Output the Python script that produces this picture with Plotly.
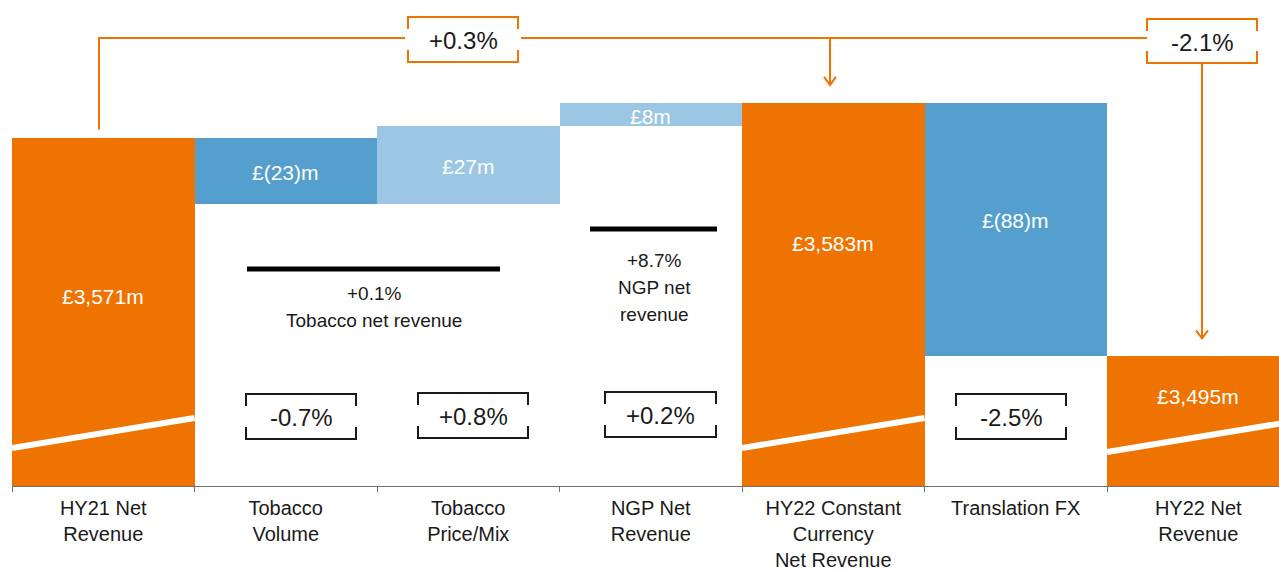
import plotly.graph_objects as go

# ---------------- data ----------------
categories = [
    "HY21 Net<br>Revenue",
    "Tobacco<br>Volume",
    "Tobacco<br>Price/Mix",
    "NGP Net<br>Revenue",
    "HY22 Constant<br>Currency<br>Net Revenue",
    "Translation FX",
    "HY22 Net<br>Revenue",
]
values = [3571, -23, 27, 8, 3583, -88, 3495]          # £m
kinds = ["total", "delta", "delta", "delta", "total", "delta", "total"]
segment_growth = ["-0.7%", "+0.8%", "+0.2%", "-2.5%"]  # under Volume, Price/Mix, NGP, FX
headline_growth = ["+0.3%", "-2.1%"]
tobacco_note = ["+0.1%", "Tobacco net revenue"]
ngp_note = ["+8.7%", "NGP net", "revenue"]

# ---------------- styling / layout constants ----------------
ORANGE = "#EF7300"
BLUE = "#559FCE"
LIGHT_BLUE = "#9BC6E4"
TEXT = "#1a1a1a"
FONT = "Arial, 'Liberation Sans', sans-serif"

W, H = 1279, 570
PLOT_LEFT, PLOT_TOP, PLOT_BOTTOM = 12, 0, 486     # pixels
M_L, M_R, M_T, M_B = PLOT_LEFT, 0, PLOT_TOP, H - PLOT_BOTTOM
PLOT_H = PLOT_BOTTOM - PLOT_TOP
CAT_W = 182.5                      # pixels per category
SCALE = 2.88                       # pixels per £m (broken axis)
AXIS_FLOOR = 3450.0
Y_TOP = AXIS_FLOOR + PLOT_H / SCALE
X_END = -0.5 + (W - PLOT_LEFT) / CAT_W


def X(px):
    return (px - PLOT_LEFT) / CAT_W - 0.5


def Y(py):
    return Y_TOP - (py - PLOT_TOP) / SCALE


def PY(v):
    return PLOT_TOP + (Y_TOP - v) * SCALE


# ---------------- waterfall geometry from data ----------------
bases, heights, colors, labels = [], [], [], []
running = None
for v, k in zip(values, kinds):
    if k == "total":
        bases.append(AXIS_FLOOR)
        heights.append(v - AXIS_FLOOR)
        colors.append(ORANGE)
        labels.append(f"£{v:,}m")
        running = v
    else:
        lo = min(running, running + v)
        bases.append(lo)
        heights.append(abs(v))
        colors.append(BLUE if v < 0 else LIGHT_BLUE)
        labels.append(f"£({-v})m" if v < 0 else f"£{v}m")
        running += v

fig = go.Figure()
fig.add_trace(go.Bar(
    x=categories, y=heights, base=bases, width=1.0,
    marker=dict(color=colors, line=dict(width=0)),
    hoverinfo="skip", showlegend=False,
))

annotations = []
shapes = []

# bar value labels (pixel y positions of text centres)
label_py = [296, 172, 166, 116, 243, 220, 396]
for i, (lab, py) in enumerate(zip(labels, label_py)):
    annotations.append(dict(x=i, y=Y(py), xref="x", yref="y", text=lab,
                            showarrow=False, font=dict(family=FONT, size=21, color="white")))

# white axis-break slashes on total bars
for i, k in enumerate(kinds):
    if k == "total":
        y_left = 448 if i < 6 else 452
        shapes.append(dict(type="line", xref="x", yref="y",
                           x0=i - 0.5, y0=Y(y_left), x1=i + 0.5, y1=Y(y_left - 30),
                           line=dict(color="white", width=6)))


def bracket(x0, x1, y0, y1, leg, color):
    return dict(type="path", xref="x", yref="y",
                path=(f"M {X(x0)},{Y(y0 + leg)} L {X(x0)},{Y(y0)} L {X(x1)},{Y(y0)} L {X(x1)},{Y(y0 + leg)} "
                      f"M {X(x0)},{Y(y1 - leg)} L {X(x0)},{Y(y1)} L {X(x1)},{Y(y1)} L {X(x1)},{Y(y1 - leg)}"),
                line=dict(color=color, width=2))


# segment growth boxes (black)
seg_boxes = [(246, 356, 394, 439), (418, 528, 393, 438), (605, 716, 392, 437), (956, 1066, 394, 439)]
for txt, (x0, x1, y0, y1) in zip(segment_growth, seg_boxes):
    shapes.append(bracket(x0, x1, y0, y1, 12, TEXT))
    annotations.append(dict(x=X((x0 + x1) / 2), y=Y((y0 + y1) / 2 + 1), xref="x", yref="y",
                            text=txt, showarrow=False, font=dict(family=FONT, size=24, color=TEXT)))

# black bars with notes
shapes.append(dict(type="line", xref="x", yref="y", x0=X(247), x1=X(500), y0=Y(269), y1=Y(269),
                   line=dict(color="black", width=5)))
shapes.append(dict(type="line", xref="x", yref="y", x0=X(590), x1=X(717), y0=Y(229), y1=Y(229),
                   line=dict(color="black", width=5)))
for j, t in enumerate(tobacco_note):
    annotations.append(dict(x=X(374), y=Y(293 + 27 * j), xref="x", yref="y", text=t, showarrow=False,
                            font=dict(family=FONT, size=19, color=TEXT)))
for j, t in enumerate(ngp_note):
    annotations.append(dict(x=X(654), y=Y(260 + 27 * j), xref="x", yref="y", text=t, showarrow=False,
                            font=dict(family=FONT, size=19, color=TEXT)))

# headline connectors (orange)
LINE_Y = 38
hl_boxes = [(408, 518, 17, 62), (1147, 1257, 19, 63)]
for txt, (x0, x1, y0, y1) in zip(headline_growth, hl_boxes):
    shapes.append(bracket(x0, x1, y0, y1, 12, ORANGE))
    annotations.append(dict(x=X((x0 + x1) / 2), y=Y((y0 + y1) / 2 + 1), xref="x", yref="y",
                            text=txt, showarrow=False, font=dict(family=FONT, size=24, color=TEXT)))

start_py = PY(values[0]) - 8
tip1 = PY(values[4]) - 18
tip2 = PY(values[6]) - 18
conn = (f"M {X(99)},{Y(start_py)} L {X(99)},{Y(LINE_Y)} L {X(405)},{Y(LINE_Y)} "
        f"M {X(521)},{Y(LINE_Y)} L {X(1147)},{Y(LINE_Y)} "
        f"M {X(830)},{Y(LINE_Y)} L {X(830)},{Y(tip1)} "
        f"M {X(824)},{Y(tip1 - 8)} L {X(830)},{Y(tip1)} L {X(836)},{Y(tip1 - 8)} "
        f"M {X(1202)},{Y(63)} L {X(1202)},{Y(tip2)} "
        f"M {X(1196)},{Y(tip2 - 8)} L {X(1202)},{Y(tip2)} L {X(1208)},{Y(tip2 - 8)}")
shapes.append(dict(type="path", xref="x", yref="y", path=conn, line=dict(color=ORANGE, width=2)))

fig.update_layout(
    width=W, height=H,
    margin=dict(l=M_L, r=M_R, t=M_T, b=M_B, pad=0),
    paper_bgcolor="white", plot_bgcolor="white",
    bargap=0,
    hovermode=False,
    font=dict(family=FONT, color=TEXT),
    xaxis=dict(type="category", range=[-0.5, X_END], showgrid=False, zeroline=False,
               showline=True, linecolor="#6f6f6f", linewidth=1,
               ticks="outside", tickson="boundaries", ticklen=5, tickcolor="#6f6f6f",
               tickfont=dict(family=FONT, size=20, color=TEXT), ticklabelstandoff=4,
               fixedrange=True),
    yaxis=dict(range=[AXIS_FLOOR, Y_TOP], visible=False, showgrid=False, zeroline=False,
               fixedrange=True),
    shapes=shapes,
    annotations=annotations,
)

fig.write_html(
    "out.html",
    config={"displayModeBar": False, "staticPlot": True},
    post_script="document.body.style.margin='0';document.body.style.overflow='hidden';",
)
